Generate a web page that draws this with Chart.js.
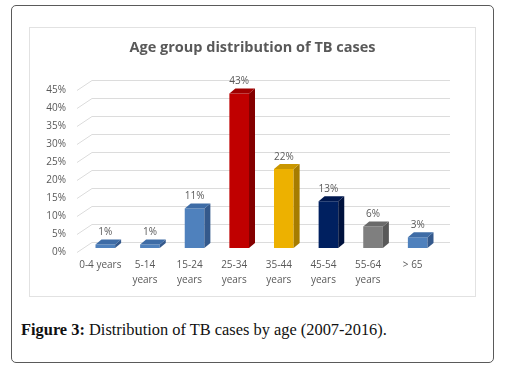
<!DOCTYPE html>
<html><head><meta charset="utf-8">
<script src="https://cdn.jsdelivr.net/npm/chart.js@4.4.0/dist/chart.umd.min.js"></script>
<style>
body{margin:0;background:#fff;width:515px;height:373px;overflow:hidden;position:relative}
#outer{position:absolute;left:11px;top:5px;width:483px;height:358px;border:1px solid #5a5a5a;border-radius:5px;box-sizing:border-box}
#box{position:absolute;left:29px;top:27px;width:447px;height:270px}
#frame{position:absolute;left:29px;top:27px;width:447px;height:270px;border:1px solid #e2e2e2;box-sizing:border-box;pointer-events:none}
#cap{position:absolute;left:21px;top:320px;font-family:"Liberation Serif",serif;font-size:16.4px;color:#111;white-space:nowrap}
#cap b{font-weight:bold}
</style></head>
<body>
<div id="outer"></div>
<div id="box"><canvas id="c"></canvas></div>
<div id="frame"></div>
<div id="cap"><b>Figure 3:</b> Distribution of TB cases by age (2007-2016).</div>
<script>
const titleText = "Age group distribution of TB cases";
const categories = [["0-4 years"], ["5-14","years"], ["15-24","years"], ["25-34","years"], ["35-44","years"], ["45-54","years"], ["55-64","years"], ["> 65"]];
const values = [1, 1, 11, 43, 22, 13, 6, 3];
const frontColors = ["#4F81BD","#4F81BD","#4F81BD","#C00000","#EDB100","#002060","#7F7F7F","#4F81BD"];
const sideColors  = ["#34598C","#34598C","#34598C","#840000","#A67C00","#00123D","#585858","#34598C"];
const topColors   = ["#3E6CA6","#3E6CA6","#3E6CA6","#A00000","#C99600","#00184F","#6A6A6A","#3E6CA6"];
const yTicks = [0,5,10,15,20,25,30,35,40,45];

const DX = 6, DY = 5;
const textColor = "#595959";

const grid3d = {
  id: 'grid3d',
  beforeDatasetsDraw(chart){
    const ctx = chart.ctx, ys = chart.scales.y, a = chart.chartArea;
    ctx.save();
    ctx.strokeStyle = "#dcdcdc";
    ctx.lineWidth = 1;
    yTicks.forEach(v => {
      const y = Math.round(ys.getPixelForValue(v)) + 0.5;
      ctx.beginPath();
      ctx.moveTo(a.left - 6, y + 4);
      ctx.lineTo(a.left + 9, y - 6);
      ctx.lineTo(a.right + 10, y - 6);
      ctx.stroke();
    });
    ctx.restore();
  },
  afterDatasetsDraw(chart){
    const ctx = chart.ctx;
    const meta = chart.getDatasetMeta(0);
    ctx.save();
    meta.data.forEach((bar, i) => {
      const p = bar.getProps(['x','y','base','width'], true);
      const x0 = p.x - p.width/2, x1 = p.x + p.width/2, yt = p.y, yb = p.base;
      ctx.fillStyle = sideColors[i];
      ctx.beginPath();
      ctx.moveTo(x1, yt); ctx.lineTo(x1 + DX, yt - DY); ctx.lineTo(x1 + DX, yb - DY); ctx.lineTo(x1, yb);
      ctx.closePath(); ctx.fill();
      ctx.fillStyle = topColors[i];
      ctx.beginPath();
      ctx.moveTo(x0, yt); ctx.lineTo(x0 + DX, yt - DY); ctx.lineTo(x1 + DX, yt - DY); ctx.lineTo(x1, yt);
      ctx.closePath(); ctx.fill();
      ctx.fillStyle = textColor;
      ctx.font = '10px "Open Sans"';
      ctx.textAlign = 'center';
      ctx.textBaseline = 'bottom';
      ctx.fillText(values[i] + '%', p.x, yt - DY - 2);
    });
    ctx.restore();
  }
};

new Chart(document.getElementById('c'), {
  type: 'bar',
  data: {
    labels: categories,
    datasets: [{
      data: values,
      backgroundColor: frontColors,
      borderWidth: 0,
      categoryPercentage: 1,
      barPercentage: 0.44
    }]
  },
  options: {
    responsive: true,
    maintainAspectRatio: false,
    animation: false,
    events: [],
    layout: { padding: 0 },
    plugins: {
      legend: { display: false },
      tooltip: { enabled: false },
      title: {
        display: true,
        text: titleText,
        color: textColor,
        font: { family: '"Open Sans"', size: 14.5, weight: 'bold' },
        padding: { top: 12, bottom: 30 }
      }
    },
    scales: {
      x: {
        grid: { display: false, drawTicks: false },
        border: { display: false },
        ticks: { color: textColor, font: { family: '"Open Sans"', size: 10, lineHeight: 1.5 }, padding: 10, labelOffset: -5, maxRotation: 0, autoSkip: false },
        afterFit(s){ s.height = 49; }
      },
      y: {
        min: 0, max: 45,
        grid: { display: false, drawTicks: false },
        border: { display: false },
        ticks: { stepSize: 5, color: textColor, font: { family: '"Open Sans"', size: 10 }, padding: 17, labelOffset: 4, callback: v => v + '%' },
        afterFit(s){ s.width = 54; }
      },
      yRight: {
        position: 'right',
        min: 0, max: 45,
        grid: { display: false, drawTicks: false },
        border: { display: false },
        ticks: { display: false },
        afterFit(s){ s.width = 36; }
      }
    }
  },
  plugins: [grid3d]
});
</script>
</body></html>
